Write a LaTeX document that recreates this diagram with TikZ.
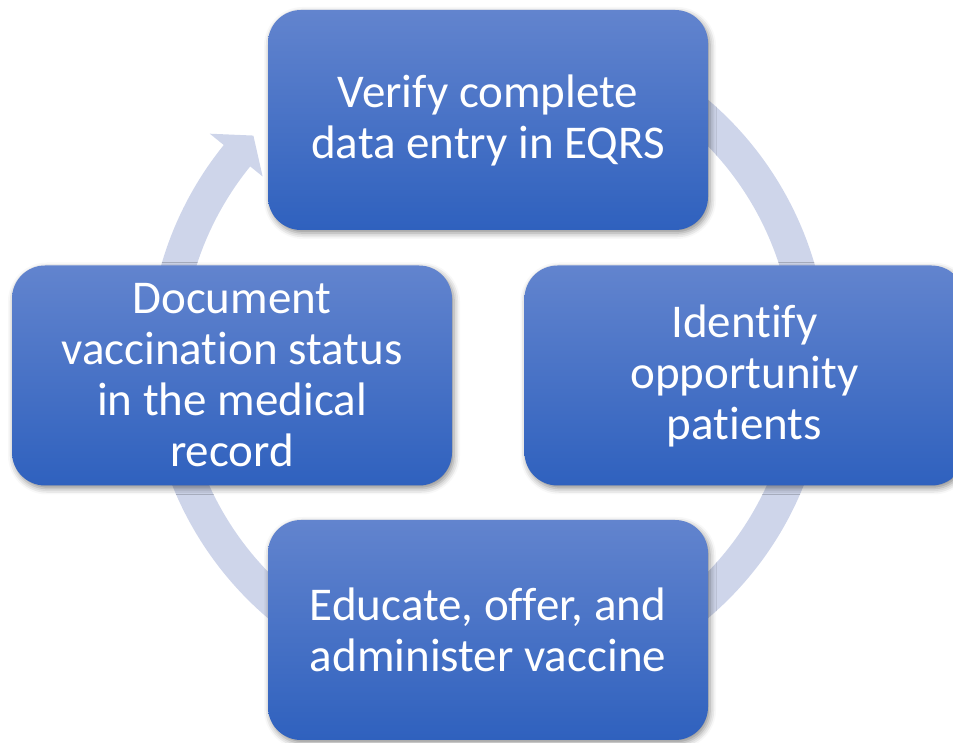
\documentclass[tikz,border=0pt]{standalone}
\usepackage{fontspec}
\setmainfont{Carlito}[Ligatures={NoCommon}, Contextuals={NoAlternate}, RawFeature={-dlig}]
\usetikzlibrary{calc,shadows.blur}

\definecolor{boxtop}{RGB}{98,132,206}
\definecolor{boxbottom}{RGB}{47,97,190}
\definecolor{ringfill}{RGB}{206,213,234}

\tikzset{
  stepbox/.style={
    rounded corners=33pt,
    minimum width=440pt, minimum height=220pt,
    top color=boxtop, bottom color=boxbottom,
    draw=none, text=white, align=center,
    font=\fontsize{47}{51}\selectfont,
    blur shadow={shadow xshift=2pt, shadow yshift=-3pt,
                 shadow blur radius=6pt, shadow opacity=45}
  }
}

\begin{document}
\begin{tikzpicture}[x=1pt, y=1pt]
  \useasboundingbox (0,0) rectangle (953,743);

  % cycle ring with its arrow head, drawn behind the boxes
  \coordinate (c) at (488,384);
  \fill[ringfill]
    ($(c)+(80:340)$) arc[start angle=80, end angle=-219, radius=340]
    -- ($(c)+(-219:358)$)
    -- ($(c)+(-223.6:324)$)
    -- ($(c)+(-219:290)$)
    -- ($(c)+(-219:306)$) arc[start angle=-219, end angle=80, radius=306]
    -- cycle;

  % the four steps of the cycle
  \node[stepbox] (verify)   at (488,623)   {Verify complete\\data entry in EQRS};
  \node[stepbox] (identify) at (744.5,367.5) {Identify\\opportunity\\patients};
  \node[stepbox] (educate)  at (488,113)   {Educate, offer, and\\administer vaccine};
  \node[stepbox] (document) at (232,367.5) {Document\\vaccination status\\in the medical\\record};
\end{tikzpicture}
\end{document}
